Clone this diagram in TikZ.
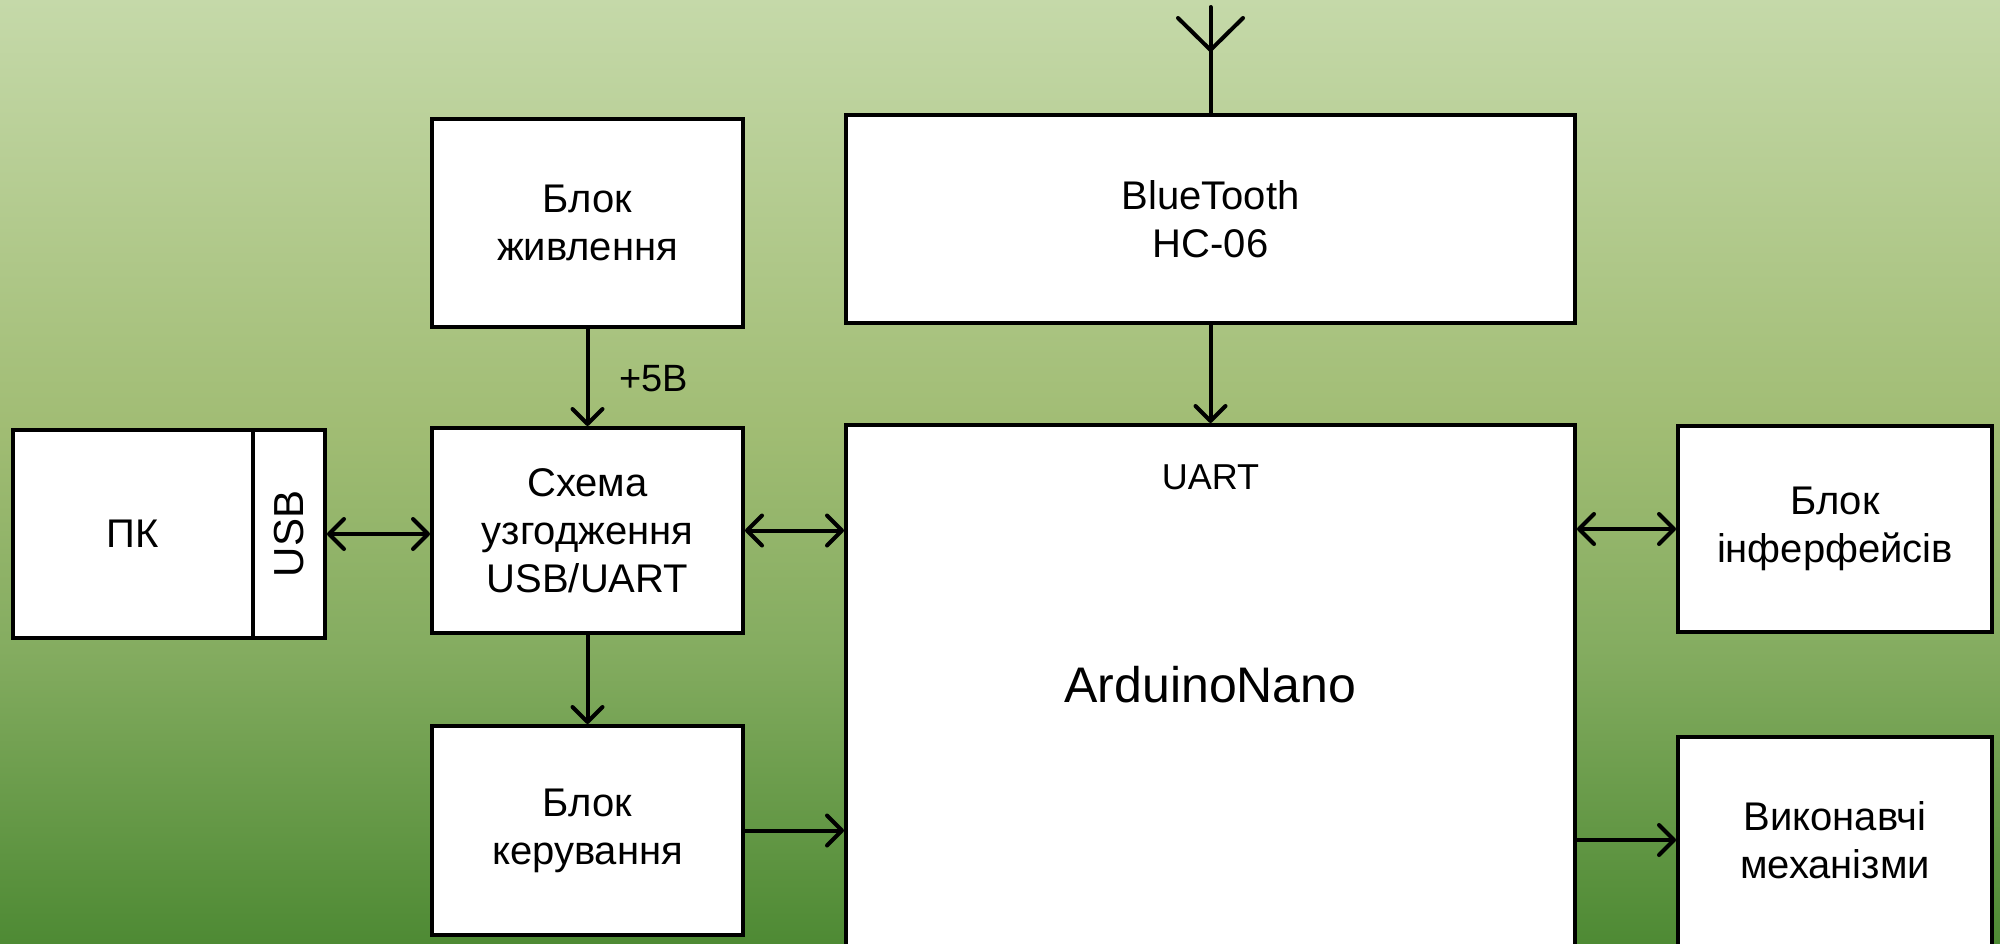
\documentclass[tikz,border=0pt]{standalone}
\usepackage{fontspec}
\setmainfont{Liberation Sans}
\usetikzlibrary{arrows.meta}
\definecolor{bgtop}{RGB}{197,217,169}
\definecolor{bgmida}{RGB}{160,188,115}
\definecolor{bgmidb}{RGB}{132,172,96}
\definecolor{bgbot}{RGB}{78,138,52}
\pgfdeclareverticalshading{bgshade}{100bp}{color(0bp)=(bgbot); color(25bp)=(bgbot); color(40.5bp)=(bgmidb); color(52bp)=(bgmida); color(75bp)=(bgtop); color(100bp)=(bgtop)}
\begin{document}
\begin{tikzpicture}[x=0.5pt,y=-0.5pt,
  blk/.style={draw=black, line width=2pt, fill=white, align=center, inner sep=0pt, font=\fontsize{20}{24}\selectfont},
  plain/.style={inner sep=0pt, align=center},
  conn/.style={line width=2pt, line cap=round},
  arr/.style={conn, -{Straight Barb[length=7.5pt,width=15pt,round]}},
  biarr/.style={conn, {Straight Barb[length=7.5pt,width=15pt,round]}-{Straight Barb[length=7.5pt,width=15pt,round]}}]
\useasboundingbox (0,0) rectangle (2000,943);
\shade[shading=bgshade] (0,0) rectangle (2000,943);
\begin{scope}
\clip (0,0) rectangle (2000,943);
\node[blk, minimum width=155.5pt, minimum height=104pt] (pwr) at (587.5,223) {Блок\\живлення};
\node[blk, minimum width=155.5pt, minimum height=102.5pt] (sch) at (587.5,530.5) {Схема\\узгодження\\USB/UART};
\node[blk, minimum width=155.5pt, minimum height=104.5pt] (ker) at (587.5,830.5) {Блок\\керування};
\node[blk, minimum width=364.5pt, minimum height=104pt] (bt) at (1210.5,219) {BlueTooth\\HC-06};
\node[blk, minimum width=364.5pt, minimum height=267.5pt] (ard) at (1210.5,692.5) {};
\node[blk, minimum width=120pt, minimum height=104pt] (pk) at (133,534) {ПК};
\node[blk, minimum width=36pt, minimum height=104pt] (usb) at (289,534) {};
\node[plain, rotate=90, font=\fontsize{21}{24}\selectfont] (usbtext) at (usb.center) {USB};
\node[blk, minimum width=157pt, minimum height=103pt] (ifc) at (1835,529) {Блок\\інферфейсів};
\node[blk, minimum width=157pt, minimum height=111.5pt] (vyk) at (1835,848.5) {};
\node[plain, font=\fontsize{20}{24}\selectfont] (vyktext) at (1835,840) {Виконавчі\\механізми};
\node[plain, anchor=base, font=\fontsize{18}{22}\selectfont] (uart) at (1210.5,489) {UART};
\node[plain, anchor=base, font=\fontsize{25}{30}\selectfont] (ardtext) at (1210.5,702) {ArduinoNano};
\node[plain, anchor=base west, font=\fontsize{19}{23}\selectfont] (v5) at (619,391) {+5В};
\end{scope}
\coordinate (anttop) at (1210.5,7);
\coordinate (antj) at (1210.5,50);
\coordinate (antl) at (1178,18);
\coordinate (antr) at (1243,18);
\draw[conn] (bt.north) -- (anttop);
\draw[conn, line join=round] (antl) -- (antj) -- (antr);
\draw[arr] (pwr) -- (sch);
\draw[arr] (sch) -- (ker);
\draw[arr] (bt) -- (ard);
\draw[biarr] (usb.east) -- (usb.east -| sch.west);
\draw[biarr] (sch.east) -- (sch.east -| ard.west);
\draw[arr] (ker.east) -- (ker.east -| ard.west);
\draw[biarr] (ifc.west -| ard.east) -- (ifc.west);
\draw[arr] (vyktext.west -| ard.east) -- (vyktext.west -| vyk.west);
\end{tikzpicture}
\end{document}
